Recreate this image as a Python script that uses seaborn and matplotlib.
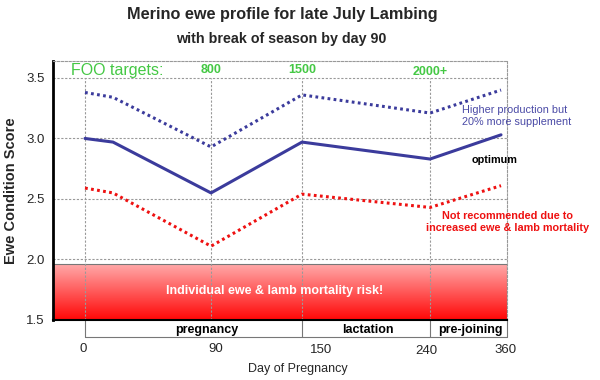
import numpy as np
import pandas as pd
import matplotlib
matplotlib.use("Agg")
import matplotlib.pyplot as plt
import matplotlib.transforms as mtransforms
from matplotlib.colors import LinearSegmentedColormap
from matplotlib.patches import Rectangle
import seaborn as sns

# ---------------- data ----------------
days = [0, 20, 90, 150, 240, 360]
optimum = [3.00, 2.97, 2.55, 2.97, 2.83, 3.03]
higher_production = [3.38, 3.34, 2.93, 3.36, 3.21, 3.40]
not_recommended = [2.59, 2.55, 2.11, 2.54, 2.43, 2.61]

tick_days = [0, 90, 150, 240, 360]
tick_labels = ["0", "90", "150", "240", "360"]
y_ticks = [1.5, 2.0, 2.5, 3.0, 3.5]
grid_y = [2.0, 2.5, 3.0, 3.5]
grid_days = [0, 90, 150, 240]

foo_days = [90, 150, 240]
foo_labels = ["800", "1500", "2000+"]

phase_names = ["pregnancy", "lactation", "pre-joining"]
phase_bounds = [0, 150, 240]

risk_top = 1.96

# ---------------- style ----------------
sns.set_theme(style="white")
plt.rcParams["font.family"] = ["Liberation Sans", "DejaVu Sans"]

BLUE = "#3b3b9c"
BLUE_TXT = "#4a4aa6"
RED = "#ee1111"
GREEN = "#44c844"
GRID = "#999999"
YMAX = 3.64

fig = plt.figure(figsize=(6, 3.8), dpi=100)
ax = fig.add_axes([53 / 600, 1 - 320 / 380, (507 - 53) / 600, (320 - 61) / 380])

# piecewise (non-uniform) day axis
kd = np.array([-200.0, 0, 90, 150, 240, 360, 600])
kp = np.array([85 - 280.0, 85, 211, 302, 430, 501, 501 + 240 * 71 / 120])
fwd = lambda d: np.interp(d, kd, kp)
inv = lambda p: np.interp(p, kp, kd)
ax.set_xscale("function", functions=(fwd, inv))

# red gradient risk zone
bt = mtransforms.blended_transform_factory(ax.transAxes, ax.transData)
cmap = LinearSegmentedColormap.from_list("risk", ["#ff0808", "#ffaaaa"])
grad = np.linspace(0, 1, 256).reshape(-1, 1)
ax.imshow(grad, cmap=cmap, aspect="auto", origin="lower",
          extent=[0, 1, 1.5, risk_top], transform=bt, zorder=0.5)
ax.add_patch(Rectangle((0, 1.5), 1, risk_top - 1.5, transform=bt, fill=False,
                       edgecolor="#777777", lw=0.8, zorder=0.6))

# grid
vtop = (3.5 - 1.5) / (YMAX - 1.5)
for yv in grid_y:
    ax.axhline(yv, color=GRID, lw=0.8, ls=(0, (2, 1.5)), zorder=1)
for dv in grid_days:
    ax.axvline(dv, ymax=vtop, color=GRID, lw=0.8, ls=(0, (2, 1.5)), zorder=1)

# lines
sns.lineplot(x=days, y=higher_production, ax=ax, color=BLUE, lw=2.2,
             linestyle=(0, (0.9, 1.1)), zorder=3)
sns.lineplot(x=days, y=optimum, ax=ax, color=BLUE, lw=2.2, zorder=3)
sns.lineplot(x=days, y=not_recommended, ax=ax, color=RED, lw=2.2,
             linestyle=(0, (0.9, 1.1)), zorder=3)

ax.set_xlim(-22.86, 370.1)
ax.set_ylim(1.5, YMAX)

# spines
for s in ["top", "right"]:
    ax.spines[s].set_color(GRID)
    ax.spines[s].set_linewidth(0.8)
    ax.spines[s].set_linestyle((0, (2, 1.5)))
ax.spines["left"].set_color("black")
ax.spines["left"].set_linewidth(2)
ax.spines["bottom"].set_color("black")
ax.spines["bottom"].set_linewidth(1.5)

# ticks
ax.set_xticks(tick_days)
ax.set_xticklabels(tick_labels, fontsize=9.5)
ax.set_yticks(y_ticks)
ax.set_yticklabels([f"{v:.1f}" for v in y_ticks], fontsize=9.5)
ax.tick_params(axis="x", length=0, pad=16.5)
ax.tick_params(axis="y", length=0, pad=6)
label_dx = [-2, 5, 19, -4, 4]
label_dy = [0, 0, 1, 2, 1]
for lab, dx, dy in zip(ax.get_xticklabels(), label_dx, label_dy):
    lab.set_transform(lab.get_transform() +
                      mtransforms.ScaledTranslation(dx / 100, -dy / 100, fig.dpi_scale_trans))

ax.set_xlabel("Day of Pregnancy", fontsize=9)
ax.xaxis.set_label_coords((298 - 53) / 454, (320 - 369) / 259)
ax.xaxis.label.set_va("center")
ax.set_ylabel("Ewe Condition Score", fontsize=10.5, fontweight="bold")
ax.yaxis.set_label_coords((11 - 53) / 454, 0.5)
ax.yaxis.label.set_va("center")

# phase box below axis
bx = mtransforms.blended_transform_factory(ax.transData, ax.transAxes)
ybot = -17 / 259
for b in phase_bounds:
    ax.plot([b, b], [0, ybot], transform=bx, color="#777777", lw=0.8, clip_on=False)
ax.plot([1, 1], [0, ybot], transform=ax.transAxes, color="#777777", lw=0.8, clip_on=False)
xb0 = ax.transAxes.inverted().transform(ax.transData.transform((phase_bounds[0], 2)))[0]
ax.plot([xb0, 1], [ybot, ybot], transform=ax.transAxes, color="#777777", lw=0.8,
        clip_on=False)
phase_label_px = [207, 368, 470]
for name, px in zip(phase_names, phase_label_px):
    ax.text(inv(px), ybot / 2 - 0.004, name, transform=bx, ha="center", va="center",
            fontsize=9, fontweight="bold", color="black")

# FOO targets
ax.text(22.9, 3.562, "FOO targets:", color=GREEN, fontsize=11.5, ha="center", va="center")
foo_y = [3.562, 3.562, 3.545]
for d, lab, yy in zip(foo_days, foo_labels, foo_y):
    ax.text(d, yy, lab, color=GREEN, fontsize=9, fontweight="bold",
            ha="center", va="center")

# annotations
ax.text(294, 3.186, "Higher production but\n20% more supplement", color=BLUE_TXT,
        fontsize=7.8, ha="left", va="center", linespacing=1.25, clip_on=False)
ax.text(311, 2.818, "optimum", color="black", fontsize=7.8, fontweight="bold",
        ha="left", va="center", clip_on=False)
ax.text(1.0, 2.31, "Not recommended due to\nincreased ewe & lamb mortality", color=RED,
        fontsize=7.8, fontweight="bold", ha="center", va="center", linespacing=1.15,
        transform=bt, clip_on=False)
ax.text((275 - 53) / 454, 1.74, "Individual ewe & lamb mortality risk!", color="white",
        fontsize=9, fontweight="bold", ha="center", va="center", transform=bt, zorder=5)

# titles
fig.text(282 / 600, 1 - 14 / 380, "Merino ewe profile for late July Lambing",
         ha="center", va="center", fontsize=11.7, fontweight="bold")
fig.text(281 / 600, 1 - 38.5 / 380, "with break of season by day 90",
         ha="center", va="center", fontsize=10.3, fontweight="bold")

fig.savefig("out.png", dpi=100)
